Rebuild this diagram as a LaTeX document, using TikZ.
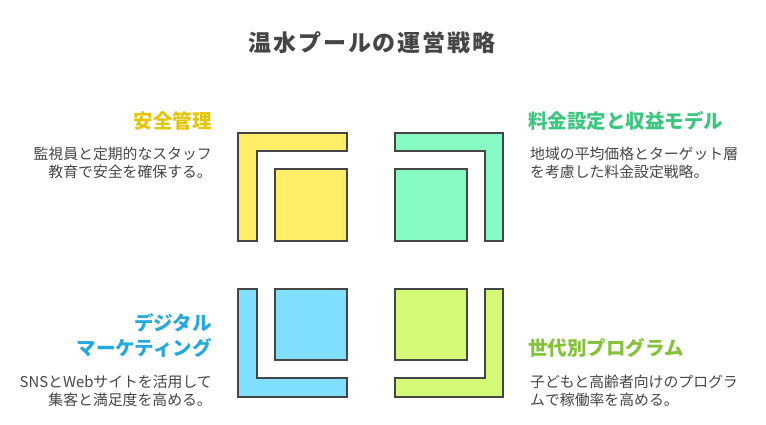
\documentclass[tikz,border=0pt]{standalone}
\usepackage{fontspec}
\newfontfamily\cjk{Noto Sans CJK JP}
\newfontfamily\cjkt{Noto Sans CJK JP}[LetterSpace=8]
\definecolor{ink}{HTML}{454545}
\definecolor{fillY}{HTML}{FFEE66}
\definecolor{fillG}{HTML}{86FAC3}
\definecolor{fillB}{HTML}{7FDFFD}
\definecolor{fillL}{HTML}{D3F977}
\definecolor{txtY}{HTML}{E3C60A}
\definecolor{txtG}{HTML}{3CC67F}
\definecolor{txtB}{HTML}{25A9DC}
\definecolor{txtL}{HTML}{86C13C}
\begin{document}
\begin{tikzpicture}[x=1pt,y=-1pt,
  shp/.style={draw=ink,line width=1.8pt,line join=miter},
  ttl/.style={font=\cjk\bfseries\fontsize{19.5}{23}\selectfont,inner sep=0pt},
  body/.style={font=\cjk\fontsize{14.85}{17.6}\selectfont,text=ink,inner sep=0pt},
]
\useasboundingbox (0,0) rectangle (766,424);
% title
\node[font=\cjkt\bfseries\fontsize{23}{26}\selectfont,text=ink,inner sep=0pt] (title) at (372,43) {温水プールの運営戦略};

% top-left (yellow)
\draw[shp,fill=fillY] (238.3,132.7) -- (346.7,132.7) -- (346.7,151) -- (256.7,151) -- (256.7,240.7) -- (238.3,240.7) -- cycle;
\draw[shp,fill=fillY] (275,169) rectangle (346.7,240.7);
% top-right (green)
\draw[shp,fill=fillG] (395,132.7) -- (502.7,132.7) -- (502.7,240.7) -- (485,240.7) -- (485,151) -- (395,151) -- cycle;
\draw[shp,fill=fillG] (395,169) rectangle (467.3,240.7);
% bottom-left (blue)
\draw[shp,fill=fillB] (238.3,289) -- (256.7,289) -- (256.7,378.3) -- (346.7,378.3) -- (346.7,396.7) -- (238.3,396.7) -- cycle;
\draw[shp,fill=fillB] (275,289) rectangle (346.7,360);
% bottom-right (lime)
\draw[shp,fill=fillL] (485,289) -- (502.7,289) -- (502.7,396.7) -- (395,396.7) -- (395,378.3) -- (485,378.3) -- cycle;
\draw[shp,fill=fillL] (395,289) rectangle (467.3,360);

% texts top-left
\node[ttl,text=txtY,anchor=east] (t1) at (212,120.7) {安全管理};
\node[body,anchor=east] (b1a) at (212,154) {監視員と定期的なスタッフ};
\node[body,anchor=east] (b1b) at (212,171.5) {教育で安全を確保する。};

% texts top-right
\node[ttl,text=txtG,anchor=west] (t2) at (528,120.7) {料金設定と収益モデル};
\node[body,anchor=west] (b2a) at (530,154) {地域の平均価格とターゲット層};
\node[body,anchor=west] (b2b) at (530,171.5) {を考慮した料金設定戦略。};

% texts bottom-left
\node[ttl,text=txtB,anchor=east] (t3a) at (212,323) {デジタル};
\node[ttl,text=txtB,anchor=east] (t3b) at (212,348) {マーケティング};
\node[body,anchor=east] (b3a) at (212,382) {SNSとWebサイトを活用して};
\node[body,anchor=east] (b3b) at (212,399.5) {集客と満足度を高める。};

% texts bottom-right
\node[ttl,text=txtL,anchor=west] (t4) at (528,348) {世代別プログラム};
\node[body,anchor=west] (b4a) at (530,382) {子どもと高齢者向けのプログラ};
\node[body,anchor=west] (b4b) at (530,399.5) {ムで稼働率を高める。};
\end{tikzpicture}
\end{document}
